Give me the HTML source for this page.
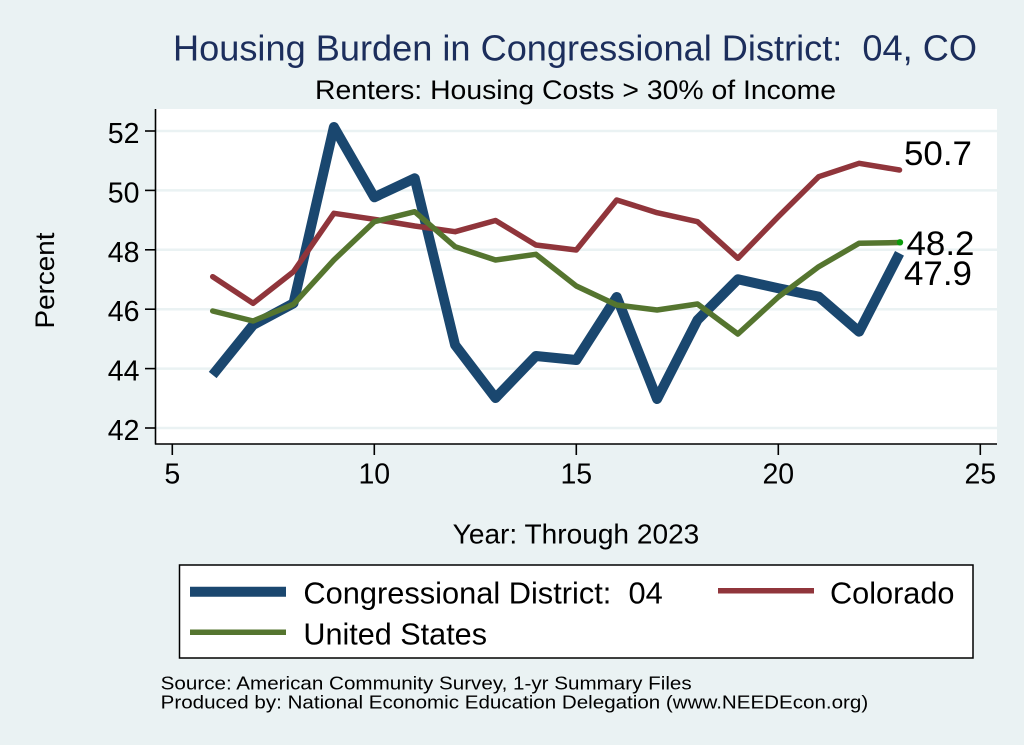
<!DOCTYPE html>
<html><head><meta charset="utf-8"><style>
html,body{margin:0;padding:0;background:#eaf2f3;}
svg{display:block;font-family:"Liberation Sans",Arial,sans-serif;}
svg text{white-space:pre;}
</style></head><body>
<svg width="1024" height="745" viewBox="0 0 1024 745" xmlns="http://www.w3.org/2000/svg" xml:space="preserve">
<rect x="0" y="0" width="1024" height="745" fill="#eaf2f3"/>
<text x="173" y="60.5" font-size="36" fill="#1c2e5c" textLength="804" lengthAdjust="spacingAndGlyphs">Housing Burden in Congressional District:  04, CO</text>
<text x="315" y="99" font-size="27" fill="#000" textLength="521" lengthAdjust="spacingAndGlyphs">Renters: Housing Costs &gt; 30% of Income</text>
<rect x="155.5" y="109" width="841.5" height="335" fill="#ffffff"/>
<g stroke="#eaf2f3" stroke-width="2.5">
<line x1="156" y1="131" x2="997" y2="131"/>
<line x1="156" y1="190.4" x2="997" y2="190.4"/>
<line x1="156" y1="249.8" x2="997" y2="249.8"/>
<line x1="156" y1="309.2" x2="997" y2="309.2"/>
<line x1="156" y1="368.6" x2="997" y2="368.6"/>
<line x1="156" y1="428" x2="997" y2="428"/>
</g>
<g stroke="#000" stroke-width="1.6">
<line x1="155.5" y1="109" x2="155.5" y2="444.5"/>
<line x1="155" y1="444" x2="997" y2="444"/>
<line x1="145" y1="131" x2="155.5" y2="131"/>
<line x1="145" y1="190.4" x2="155.5" y2="190.4"/>
<line x1="145" y1="249.8" x2="155.5" y2="249.8"/>
<line x1="145" y1="309.2" x2="155.5" y2="309.2"/>
<line x1="145" y1="368.6" x2="155.5" y2="368.6"/>
<line x1="145" y1="428" x2="155.5" y2="428"/>
<line x1="172.3" y1="444" x2="172.3" y2="455"/>
<line x1="374.3" y1="444" x2="374.3" y2="455"/>
<line x1="576.3" y1="444" x2="576.3" y2="455"/>
<line x1="778.3" y1="444" x2="778.3" y2="455"/>
<line x1="980.3" y1="444" x2="980.3" y2="455"/>
</g>
<g font-size="28.5" fill="#000" text-anchor="end">
<text x="139.5" y="143">52</text>
<text x="139.5" y="202.4">50</text>
<text x="139.5" y="261.8">48</text>
<text x="139.5" y="321.2">46</text>
<text x="139.5" y="380.6">44</text>
<text x="139.5" y="440">42</text>
</g>
<g font-size="28.5" fill="#000" text-anchor="middle">
<text x="172.3" y="483.3">5</text>
<text x="374.3" y="483.3">10</text>
<text x="576.3" y="483.3">15</text>
<text x="778.3" y="483.3">20</text>
<text x="980.3" y="483.3">25</text>
</g>
<text transform="translate(54,280.5) rotate(-90)" font-size="27" text-anchor="middle" textLength="96" lengthAdjust="spacingAndGlyphs">Percent</text>
<text x="576" y="543.3" font-size="27.5" text-anchor="middle" textLength="246.6" lengthAdjust="spacingAndGlyphs">Year: Through 2023</text>
<polyline fill="none" stroke="#1a476f" stroke-width="10" stroke-linejoin="round" stroke-linecap="butt"
points="212.7,375 253.1,325 293.5,303.3 333.9,127 374.3,197.3 414.7,178.3 455.1,345 495.5,398 535.9,356 576.3,360 616.7,297 657.1,399 697.5,320 737.9,279.3 778.3,288.3 818.7,296.7 859.1,331.7 899.5,253.3"/>
<polyline fill="none" stroke="#90353b" stroke-width="5.5" stroke-linejoin="round" stroke-linecap="round"
points="212.7,276.7 253.1,303.3 293.5,271.7 333.9,213.3 374.3,219.3 414.7,226 455.1,231.7 495.5,220.5 535.9,245 576.3,250 616.7,200 657.1,212.7 697.5,221.7 737.9,258.3 778.3,216.7 818.7,176.7 859.1,163.3 899.5,170"/>
<polyline fill="none" stroke="#55752f" stroke-width="5.5" stroke-linejoin="round" stroke-linecap="round"
points="212.7,311 253.1,321 293.5,304.3 333.9,260 374.3,221.7 414.7,211.7 455.1,246.7 495.5,260 535.9,254.3 576.3,286 616.7,305 657.1,310 697.5,304 737.9,334 778.3,297 818.7,266.7 859.1,243.3 899.5,242.5"/>
<circle cx="900" cy="242.3" r="3.2" fill="#0a9a0a"/>
<g font-size="34" fill="#000">
<text x="904" y="165" textLength="68" lengthAdjust="spacingAndGlyphs">50.7</text>
<text x="906.5" y="255" textLength="68" lengthAdjust="spacingAndGlyphs">48.2</text>
<text x="904" y="285" textLength="68" lengthAdjust="spacingAndGlyphs">47.9</text>
</g>
<rect x="179.5" y="565" width="793.5" height="93" fill="#ffffff" stroke="#000" stroke-width="1.5"/>
<line x1="190" y1="591.7" x2="286" y2="591.7" stroke="#1a476f" stroke-width="10"/>
<line x1="718" y1="590.7" x2="814" y2="590.7" stroke="#90353b" stroke-width="5.5"/>
<line x1="190" y1="632.3" x2="286" y2="632.3" stroke="#55752f" stroke-width="5.5"/>
<g font-size="30.5" fill="#000">
<text x="303.4" y="603.3" textLength="359.3" lengthAdjust="spacingAndGlyphs">Congressional District:  04</text>
<text x="830" y="603.3" textLength="124.5" lengthAdjust="spacingAndGlyphs">Colorado</text>
<text x="303.4" y="644.3" textLength="183.6" lengthAdjust="spacingAndGlyphs">United States</text>
</g>
<g font-size="18.5" fill="#000">
<text x="160.7" y="689.3" textLength="531" lengthAdjust="spacingAndGlyphs">Source: American Community Survey, 1-yr Summary Files</text>
<text x="160.7" y="708.3" textLength="707.5" lengthAdjust="spacingAndGlyphs">Produced by: National Economic Education Delegation (www.NEEDEcon.org)</text>
</g>
</svg>
</body></html>
